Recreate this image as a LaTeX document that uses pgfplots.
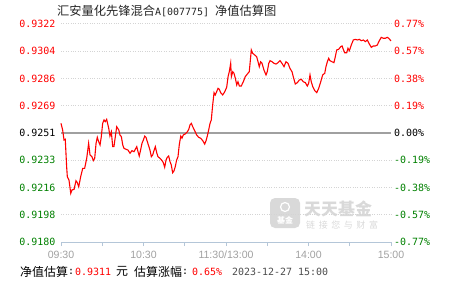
\documentclass[border=0pt]{standalone}
\usepackage{pgfplots}
\pgfplotsset{compat=1.18}
\usepackage{pgfplotstable}
\usepackage{fontspec}
\setmainfont{Liberation Sans}
\newfontfamily\mono{DejaVu Sans Mono}
\newfontfamily\cjk{Noto Sans CJK SC}
\definecolor{upred}{HTML}{FF0000}
\definecolor{dngreen}{HTML}{008000}
\definecolor{axisblue}{HTML}{B4C6D8}
\definecolor{gridgray}{HTML}{D4D4D4}
\definecolor{zerogray}{HTML}{A0A0A0}
\definecolor{ticklab}{HTML}{A0A0A0}
\definecolor{wm}{HTML}{D9D9D9}
\pgfplotstableread{
m v
0 0.92573
1.2 0.92530
2.2 0.92464
3.1 0.92469
4.1 0.92291
4.6 0.92225
5.8 0.92204
7.1 0.92117
8.0 0.92139
9.5 0.92143
10.9 0.92199
11.9 0.92186
12.9 0.92160
14.3 0.92225
15.8 0.92280
17.2 0.92280
18.7 0.92345
20.1 0.92443
21.1 0.92367
22.5 0.92356
23.5 0.92330
24.5 0.92345
25.5 0.92443
26.4 0.92482
27.4 0.92453
28.4 0.92432
29.3 0.92486
30.3 0.92573
31.3 0.92595
32.2 0.92584
33.2 0.92599
34.7 0.92541
35.6 0.92490
36.6 0.92518
37.6 0.92421
38.5 0.92421
39.5 0.92486
40.5 0.92551
42.0 0.92530
42.9 0.92497
43.9 0.92486
44.9 0.92432
45.8 0.92410
47.3 0.92404
48.7 0.92399
50.2 0.92378
51.6 0.92395
53.1 0.92388
54.0 0.92404
55.1 0.92421
56.0 0.92388
56.9 0.92360
58.0 0.92404
58.9 0.92443
59.9 0.92464
60.9 0.92490
61.8 0.92482
62.8 0.92453
63.8 0.92425
64.7 0.92399
65.7 0.92356
66.7 0.92367
67.6 0.92395
68.6 0.92421
69.6 0.92382
70.5 0.92356
72.0 0.92345
73.5 0.92330
74.4 0.92317
75.4 0.92287
76.4 0.92334
77.3 0.92352
78.3 0.92360
79.3 0.92323
80.2 0.92302
81.2 0.92251
82.2 0.92264
83.1 0.92291
84.1 0.92334
85.1 0.92356
86.0 0.92432
87.1 0.92490
88.0 0.92476
88.9 0.92497
90.4 0.92504
91.9 0.92518
92.9 0.92534
93.8 0.92562
94.8 0.92573
95.8 0.92551
97.2 0.92525
98.7 0.92497
100.1 0.92482
101.6 0.92476
103.1 0.92460
104.5 0.92438
105.5 0.92460
106.4 0.92490
107.4 0.92530
108.4 0.92573
109.3 0.92595
110.3 0.92692
111.3 0.92773
112.2 0.92758
113.2 0.92779
114.2 0.92801
115.1 0.92795
116.1 0.92773
117.6 0.92758
119.1 0.92779
120.5 0.92808
121.5 0.92877
122.4 0.92909
123.4 0.92964
123.9 0.92877
124.9 0.92909
125.8 0.92899
126.8 0.92866
127.8 0.92823
128.7 0.92844
129.7 0.92816
131.1 0.92816
132.6 0.92844
134.0 0.92877
135.5 0.92894
136.9 0.92909
137.5 0.92964
138.4 0.93051
139.4 0.93029
140.9 0.93018
142.3 0.93007
143.3 0.92974
144.2 0.92942
145.2 0.92974
146.2 0.92964
147.6 0.92920
149.1 0.92888
150.0 0.92909
151.1 0.92964
152.0 0.92981
153.5 0.92974
154.9 0.92964
156.4 0.92959
157.8 0.92968
159.3 0.92981
160.7 0.92964
162.2 0.92942
163.6 0.92974
165.1 0.92964
166.5 0.92931
168.0 0.92909
168.9 0.92877
170.4 0.92829
171.9 0.92838
173.3 0.92855
174.8 0.92860
176.2 0.92844
177.7 0.92838
179.1 0.92816
180.1 0.92834
181.1 0.92888
182.0 0.92844
183.1 0.92812
184.5 0.92786
186.0 0.92773
187.4 0.92801
188.9 0.92844
190.3 0.92888
191.8 0.92899
192.7 0.92942
193.7 0.92974
194.7 0.92997
195.6 0.92981
197.1 0.92974
198.5 0.92968
199.5 0.93007
200.5 0.93051
201.9 0.93055
203.4 0.93072
204.4 0.93077
205.3 0.93055
206.3 0.93033
207.8 0.93033
208.7 0.93062
209.7 0.93046
211.1 0.93083
212.6 0.93116
214.0 0.93120
215.5 0.93116
217.0 0.93120
218.4 0.93111
219.9 0.93116
221.3 0.93105
222.8 0.93116
224.2 0.93090
225.7 0.93068
227.1 0.93077
228.6 0.93077
230.0 0.93083
231.5 0.93111
232.9 0.93133
234.4 0.93127
235.8 0.93127
237.3 0.93133
238.3 0.93127
240 0.93110
}\navdata
\begin{document}
\begin{tikzpicture}[x=1bp,y=1bp]
\useasboundingbox (0,0) rectangle (451,281);
% watermark
\fill[wm,rounded corners=5bp] (270,53) rectangle (300,83);
\node[white,font=\cjk\fontsize{8}{8}\selectfont\bfseries] at (285,61) {基金};
\draw[white,line width=1.2bp] (285,74) circle (4.5bp);
\node[wm,font=\cjk\fontsize{17}{17}\selectfont\bfseries,anchor=west,inner sep=0] at (304,72) {天天基金};
\node[wm,font=\cjk\fontsize{9}{9}\selectfont,anchor=west,inner sep=0] at (306,56) {链\hspace{3.6bp}接\hspace{3.6bp}您\hspace{3.6bp}与\hspace{3.6bp}财\hspace{3.6bp}富};
% title
\node[anchor=west,inner sep=0,text=black!85] at (57,270) {{\cjk\fontsize{12.3}{12.3}\selectfont 汇安量化先锋混合}{\mono\fontsize{10}{10}\selectfont A[007775]\ }{\cjk\fontsize{12.3}{12.3}\selectfont 净值估算图}};
\begin{axis}[
  at={(61bp,39bp)}, anchor=south west,
  scale only axis, width=330bp, height=218bp,
  xmin=0, xmax=240, ymin=0.9180, ymax=0.9322,
  axis x line*=bottom, axis y line*=left,
  x axis line style={axisblue, line width=1bp},
  y axis line style={draw=none},
  xtick={0,60,120,180,240},
  xticklabels={09:30,10:30,11:30/13:00,14:00,15:00},
  minor xtick={30,90,150,210},
  tick align=outside,
  major tick length=4bp, minor tick length=4bp,
  xtick style={axisblue, line width=1bp},
  x tick label style={font=\fontsize{10.6}{10.6}\selectfont, text=ticklab, yshift=-1.5bp},
  ytick={0.9180,0.919775,0.92155,0.923325,0.926875,0.92865,0.930425,0.9322},
  yticklabels={\textcolor{dngreen}{0.9180},\textcolor{dngreen}{0.9198},\textcolor{dngreen}{0.9216},\textcolor{dngreen}{0.9233},\textcolor{upred}{0.9269},\textcolor{upred}{0.9286},\textcolor{upred}{0.9304},\textcolor{upred}{0.9322}},
  extra y ticks={0.9251},
  extra y tick labels={\textcolor{black}{0.9251}},
  extra y tick style={ymajorgrids=true, major grid style={zerogray, solid, line width=1.2bp}},
  ytick style={draw=none},
  y tick label style={font=\mono\fontsize{10}{10}\selectfont, xshift=2bp},
  ymajorgrids,
  major grid style={gridgray, dotted, line width=1bp},
  clip=false,
]
\addplot[upred, line width=1.1bp] table[x=m,y=v] {\navdata};
\end{axis}
\begin{axis}[
  at={(61bp,39bp)}, anchor=south west,
  scale only axis, width=330bp, height=218bp,
  xmin=0, xmax=240, ymin=0.9180, ymax=0.9322,
  hide x axis,
  axis y line*=right,
  y axis line style={draw=none},
  ytick style={draw=none},
  ytick={0.9180,0.919775,0.92155,0.923325,0.9251,0.926875,0.92865,0.930425,0.9322},
  yticklabels={\textcolor{dngreen}{-0.77\%},\textcolor{dngreen}{-0.57\%},\textcolor{dngreen}{-0.38\%},\textcolor{dngreen}{-0.19\%},\textcolor{black}{0.00\%},\textcolor{upred}{0.19\%},\textcolor{upred}{0.38\%},\textcolor{upred}{0.57\%},\textcolor{upred}{0.77\%}},
  y tick label style={font=\mono\fontsize{10}{10}\selectfont, xshift=-0.5bp},
]
\end{axis}
% bottom info line
\node[anchor=west,inner sep=0] at (20,9.5) {\cjk\fontsize{12}{12}\selectfont 净值估算};
\node[anchor=west,inner sep=0] at (68,9.5) {\mono\fontsize{10}{10}\selectfont :};
\node[anchor=west,inner sep=0,text=upred] at (75,9.5) {\mono\fontsize{10}{10}\selectfont 0.9311};
\node[anchor=west,inner sep=0] at (116,9.5) {\cjk\fontsize{12}{12}\selectfont 元};
\node[anchor=west,inner sep=0] at (134,9.5) {\cjk\fontsize{12}{12}\selectfont 估算涨幅};
\node[anchor=west,inner sep=0] at (182,9.5) {\mono\fontsize{10}{10}\selectfont :};
\node[anchor=west,inner sep=0,text=upred] at (192,9.5) {\mono\fontsize{10}{10}\selectfont 0.65\%};
\node[anchor=west,inner sep=0,text=black!70] at (232,9.5) {\mono\fontsize{10}{10}\selectfont 2023-12-27 15:00};
\end{tikzpicture}
\end{document}
